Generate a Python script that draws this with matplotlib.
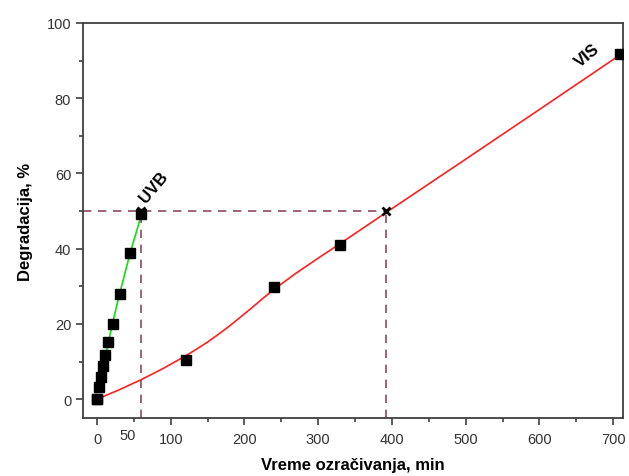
import matplotlib
matplotlib.use("Agg")
import matplotlib.pyplot as plt
import matplotlib.transforms as mtransforms
from matplotlib.ticker import MultipleLocator, NullFormatter

plt.rcParams['font.family'] = ['Liberation Sans', 'DejaVu Sans']

# UVB measurements and fitted line
uvb_t = [0, 3, 5, 8, 11, 15, 21, 31, 45, 60]
uvb_deg = [0, 3.3, 5.9, 8.9, 11.7, 15.3, 20.1, 28.0, 38.8, 49.2]
uvb_fit_t = [2.7, 10, 20, 30, 45, 61]
uvb_fit_deg = [2.4, 10.2, 19.3, 27.6, 38.9, 49.6]

# VIS measurements and fitted curve
vis_t = [0, 120, 240, 330, 709]
vis_deg = [0, 10.4, 29.7, 41.1, 91.8]
vis_fit_t = [0, 30, 60, 90, 120, 135, 150, 165, 180, 195, 210, 225, 240,
             270, 300, 330, 392, 500, 600, 710]
vis_fit_deg = [0, 2.5, 5.2, 8.2, 11.5, 13.3, 15.2, 17.3, 19.5, 21.9, 24.3, 26.8, 29.2,
               33.5, 37.5, 41.4, 49.6, 63.8, 77.0, 91.6]

# t50 read-outs
half_deg = 50
t50_uvb = 60
t50_vis = 392

fig = plt.figure(figsize=(6.29, 4.77), dpi=100)
ax = fig.add_axes([0.132, 0.1216, 0.858, 0.8281])

dash_c = '#8b4a62'
dash = (0, (5, 4))
ax.plot([-19, t50_vis], [half_deg, half_deg], ls=dash, color=dash_c, lw=1.2, zorder=1)
ax.plot([t50_uvb, t50_uvb], [-5, half_deg], ls=dash, color=dash_c, lw=1.2, zorder=1)
ax.plot([t50_vis, t50_vis], [-5, half_deg], ls=dash, color=dash_c, lw=1.2, zorder=1)

ax.plot(vis_fit_t, vis_fit_deg, color='#ff2020', lw=1.2, zorder=2)
ax.plot(uvb_fit_t, uvb_fit_deg, color='#10e010', lw=1.2, zorder=3)
ax.plot(vis_t, vis_deg, 's', color='black', ms=7, zorder=4)
ax.plot(uvb_t, uvb_deg, 's', color='black', ms=7, zorder=4)
ax.plot([t50_uvb, t50_vis], [half_deg, half_deg], 'x', color='black', ms=6, mew=2, zorder=5)

ax.text(77, 56.5, 'UVB', rotation=50, fontsize=12, fontweight='bold',
        ha='center', va='center')
ax.text(665, 91.5, 'VIS', rotation=40, fontsize=12, fontweight='bold',
        ha='center', va='center')

ax.set_xlim(-19, 713)
ax.set_ylim(-5, 100)
ax.xaxis.set_major_locator(MultipleLocator(100))
ax.xaxis.set_minor_locator(MultipleLocator(50))
ax.xaxis.set_minor_formatter(NullFormatter())
ax.yaxis.set_major_locator(MultipleLocator(20))
ax.yaxis.set_minor_locator(MultipleLocator(10))

# the lone "50" label sits a little left of and above its tick
blend = mtransforms.blended_transform_factory(ax.transData, ax.transAxes)
ax.text(42, -0.042, '50', transform=blend, ha='center', va='center',
        fontsize=10.5, color='#333333')

for s in ax.spines.values():
    s.set_color('#404040')
    s.set_linewidth(1.3)
ax.tick_params(which='both', direction='out', colors='#404040', labelcolor='#333333',
               labelsize=10.5, width=1.2)
ax.tick_params(which='major', length=5)
ax.tick_params(which='minor', length=3)
ax.tick_params(axis='x', which='major', pad=5)

ax.set_xlabel('Vreme ozračivanja, min', fontsize=12, fontweight='bold', labelpad=8)
ax.set_ylabel('Degradacija, %', fontsize=12, fontweight='bold', labelpad=10)

fig.savefig('out.png', dpi=100)
